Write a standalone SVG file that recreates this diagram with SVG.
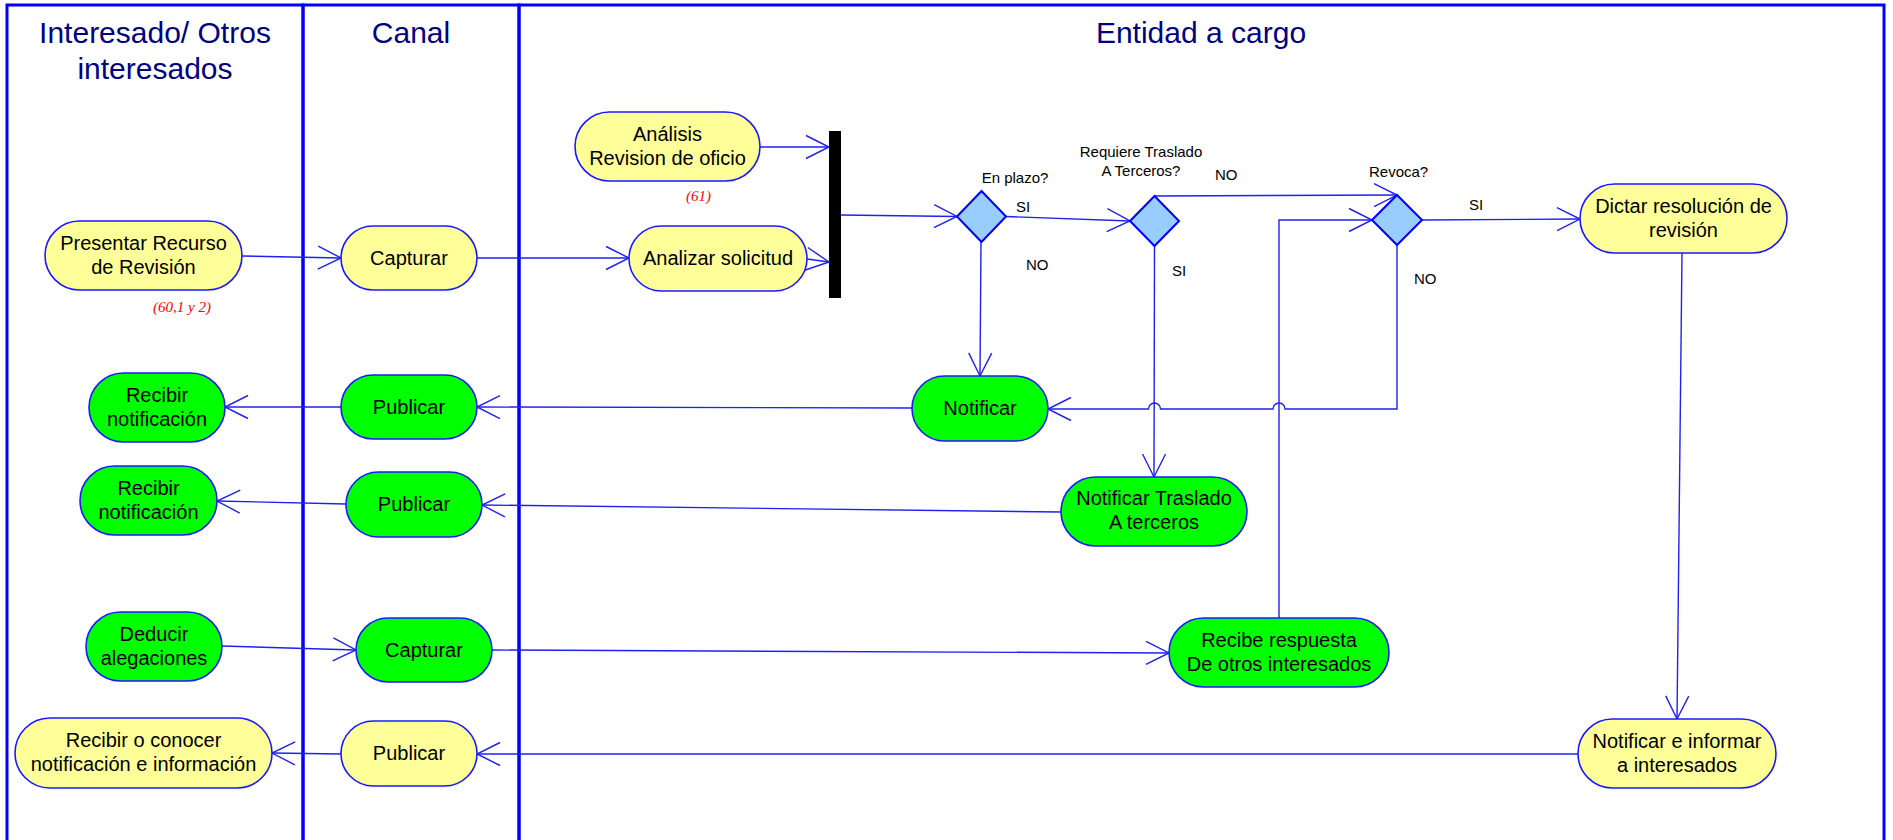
<svg xmlns="http://www.w3.org/2000/svg" width="1893" height="840" viewBox="0 0 1893 840">
<style>
  .lane { fill: none; stroke: #0000ff; stroke-width: 3; }
  .title { font-family: "Liberation Sans", Arial, sans-serif; font-size: 30px; fill: #000080; text-anchor: middle; }
  .node rect { stroke: #1a1aff; stroke-width: 1.6; }
  .y rect { fill: #ffff99; }
  .g rect { fill: #00ff00; }
  .node text { font-family: "Liberation Sans", Arial, sans-serif; font-size: 20px; fill: #000; text-anchor: middle; }
  .dia polygon { fill: #99ccff; stroke: #0000ff; stroke-width: 2; }
  .lbl { font-family: "Liberation Sans", Arial, sans-serif; font-size: 15px; fill: #000; }
  .ref { font-family: "Liberation Serif", "Times New Roman", serif; font-style: italic; font-size: 15px; fill: #ff0000; }
  .conn path { fill: none; stroke: #2020f0; stroke-width: 1.4; marker-end: url(#arr); }
  .conn path.plain { marker-end: none; }
</style>
<defs>
  <marker id="arr" viewBox="-25 -13 27 26" refX="0" refY="0" markerWidth="27" markerHeight="26" markerUnits="userSpaceOnUse" orient="auto">
    <path d="M-23,-11.5 L0,0 L-23,11.5" fill="none" stroke="#2020f0" stroke-width="1.4"/>
  </marker>
</defs>
<rect width="1893" height="840" fill="#ffffff"/>

<g id="lanes">
  <rect class="lane" x="7" y="5" width="296" height="845"/>
  <rect class="lane" x="303" y="5" width="216" height="845"/>
  <rect class="lane" x="519" y="5" width="1365" height="845"/>
  <text class="title" x="155" y="43">Interesado/ Otros</text>
  <text class="title" x="155" y="79">interesados</text>
  <text class="title" x="411" y="43">Canal</text>
  <text class="title" x="1201" y="43">Entidad a cargo</text>
</g>

<g id="connectors" class="conn">
  <path d="M242,256 L341,258"/>
  <path d="M477,258 L629,258"/>
  <path d="M760,147 L829,147"/>
  <path d="M807,259 L829,262"/>
  <path d="M841,215 L957,216.5"/>
  <path d="M1006,216.5 L1130,221"/>
  <path d="M981,242 L980,376"/>
  <path d="M1154.5,196 L1397,195"/>
  <path d="M1154.5,246 L1154,477"/>
  <path d="M1279,618 L1279,220 L1372,220"/>
  <path d="M1422,220 L1580,219"/>
  <path d="M1397,245 L1397,409 L1285,409 A6,6 0 0 0 1273,409 L1160.5,409 A6,6 0 0 0 1148.5,409 L1048,409"/>
  <path d="M912,408 L477,407"/>
  <path d="M341,407 L225,407"/>
  <path d="M1061,512 L482,505"/>
  <path d="M346,504 L217,501"/>
  <path d="M222,646 L356,650"/>
  <path d="M492,650 L1169,653"/>
  <path d="M1682,253 L1677,719"/>
  <path d="M1578,754 L477,754"/>
  <path d="M341,754 L272,753"/>
</g>

<g id="presentar" class="node y">
  <rect x="45" y="221" width="197" height="69" rx="34.5"/>
  <text x="143.5" y="250">Presentar Recurso</text>
  <text x="143.5" y="274">de Revisión</text>
</g>
<text class="ref" x="153" y="312">(60,1 y 2)</text>

<g id="capturar1" class="node y">
  <rect x="341" y="226" width="136" height="64" rx="32"/>
  <text x="409" y="265">Capturar</text>
</g>

<g id="analisis" class="node y">
  <rect x="575" y="112" width="185" height="69" rx="34.5"/>
  <text x="667.5" y="141">Análisis</text>
  <text x="667.5" y="165">Revision de oficio</text>
</g>
<text class="ref" x="686" y="201">(61)</text>

<g id="analizar" class="node y">
  <rect x="629" y="226" width="178" height="65" rx="32.5"/>
  <text x="718" y="265">Analizar solicitud</text>
</g>

<g id="barra">
  <rect x="829" y="131" width="12" height="167" fill="#000000"/>
</g>

<g id="enplazo" class="dia">
  <polygon points="957,216.5 981.5,191 1006,216.5 981.5,242"/>
  <text class="lbl" x="1015" y="183" text-anchor="middle">En plazo?</text>
</g>
<text class="lbl" x="1016" y="212">SI</text>
<text class="lbl" x="1026" y="270">NO</text>

<g id="requiere" class="dia">
  <polygon points="1130,221 1154.5,196 1179,221 1154.5,246"/>
  <text class="lbl" x="1141" y="157" text-anchor="middle">Requiere Traslado</text>
  <text class="lbl" x="1141" y="176" text-anchor="middle">A Terceros?</text>
</g>
<text class="lbl" x="1215" y="180">NO</text>
<text class="lbl" x="1172" y="276">SI</text>

<g id="revoca" class="dia">
  <polygon points="1372,220 1397,195 1422,220 1397,245"/>
  <text class="lbl" x="1369" y="177">Revoca?</text>
</g>
<text class="lbl" x="1469" y="210">SI</text>
<text class="lbl" x="1414" y="284">NO</text>

<g id="dictar" class="node y">
  <rect x="1580" y="184" width="207" height="69" rx="34.5"/>
  <text x="1683.5" y="213">Dictar resolución de</text>
  <text x="1683.5" y="237">revisión</text>
</g>

<g id="recibir1" class="node g">
  <rect x="89" y="373" width="136" height="69" rx="34.5"/>
  <text x="157" y="402">Recibir</text>
  <text x="157" y="426">notificación</text>
</g>

<g id="publicar1" class="node g">
  <rect x="341" y="375" width="136" height="64" rx="32"/>
  <text x="409" y="414">Publicar</text>
</g>

<g id="notificar" class="node g">
  <rect x="912" y="376" width="136" height="65" rx="32.5"/>
  <text x="980" y="415">Notificar</text>
</g>

<g id="recibir2" class="node g">
  <rect x="80" y="466" width="137" height="69" rx="34.5"/>
  <text x="148.5" y="495">Recibir</text>
  <text x="148.5" y="519">notificación</text>
</g>

<g id="publicar2" class="node g">
  <rect x="346" y="472" width="136" height="65" rx="32.5"/>
  <text x="414" y="511">Publicar</text>
</g>

<g id="notificarTraslado" class="node g">
  <rect x="1061" y="477" width="186" height="69" rx="34.5"/>
  <text x="1154" y="505">Notificar Traslado</text>
  <text x="1154" y="529">A terceros</text>
</g>

<g id="deducir" class="node g">
  <rect x="86" y="612" width="136" height="69" rx="34.5"/>
  <text x="154" y="641">Deducir</text>
  <text x="154" y="665">alegaciones</text>
</g>

<g id="capturar3" class="node g">
  <rect x="356" y="618" width="136" height="64" rx="32"/>
  <text x="424" y="657">Capturar</text>
</g>

<g id="recibeRespuesta" class="node g">
  <rect x="1169" y="618" width="220" height="69" rx="34.5"/>
  <text x="1279" y="647">Recibe respuesta</text>
  <text x="1279" y="671">De otros interesados</text>
</g>

<g id="recibirConocer" class="node y">
  <rect x="15" y="718" width="257" height="70" rx="35"/>
  <text x="143.5" y="747">Recibir o conocer</text>
  <text x="143.5" y="771">notificación e información</text>
</g>

<g id="publicar4" class="node y">
  <rect x="341" y="721" width="136" height="65" rx="32.5"/>
  <text x="409" y="760">Publicar</text>
</g>

<g id="notificarInformar" class="node y">
  <rect x="1578" y="719" width="198" height="69" rx="34.5"/>
  <text x="1677" y="748">Notificar e informar</text>
  <text x="1677" y="772">a interesados</text>
</g>
</svg>
